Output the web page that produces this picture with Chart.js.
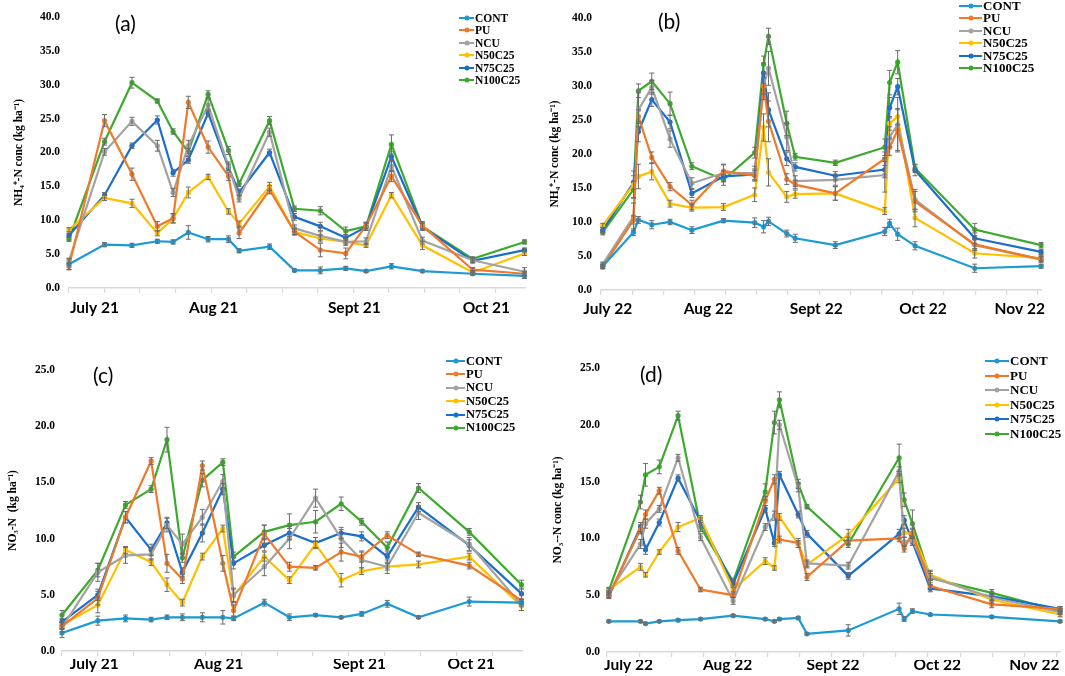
<!DOCTYPE html>
<html><head><meta charset="utf-8">
<script src="https://cdn.jsdelivr.net/npm/chart.js@4/dist/chart.umd.min.js"></script>
<style>
html,body{margin:0;padding:0;background:#fff}
body{width:1065px;height:676px;position:relative;overflow:hidden}
.pane{position:absolute}
.plab{position:absolute;font-family:Lato,"Open Sans",sans-serif;font-size:21px;line-height:1;color:#000}
.leg{position:absolute;font-family:"Liberation Serif","DejaVu Serif",serif;font-weight:bold;color:#000}
.leg .it{display:flex;align-items:center;white-space:nowrap}
.leg .sw{position:relative;height:2px;flex:none}
.leg .sw i{position:absolute;left:50%;top:50%;width:5px;height:5px;border-radius:50%;transform:translate(-50%,-50%)}
</style>
</head><body>
<div id="root"></div>
<script>
// ---- series names & colours ----
const NAMES  = ['CONT','PU','NCU','N50C25','N75C25','N100C25'];
const COLORS = ['#1b9ad6','#f07a2a','#a3a3a3','#ffc000','#1a6ecc','#3daa2e'];

// ---- sampling days (2021 season: panels a, c ; 2022 season: panels b, d) ----
const DAYS21 = [0,7,12.4,17.4,20.5,23.5,27.4,31.4,33.5,39.5,44.4,49.5,54.5,58.5,63.5,69.6,79.5,89.7];
const DAYS22 = [0.4,7.3,8.4,11.4,15.5,20.4,27.5,34.5,36.5,37.6,41.7,43.6,52.6,63.7,64.8,66.6,70.5,83.9,98.8];

// ---- x axis month labels ----
const MONTHS21 = ['July 21','Aug 21','Sept 21','Oct 21'];
const MONTHS22 = ['July 22','Aug 22','Sept 22','Oct 22','Nov 22'];
const MONTHPOS_A = [5.0,28.5,56.2,82.2];
const MONTHPOS_B = [1.5,24.1,48.3,72.3,94.0];
const MONTHPOS_C = [6.3,30.6,58.1,79.9];
const MONTHPOS_D = [4.7,26.3,49.3,72.0,93.2];

// ---- (a) NH4+-N 2021 : means ----
const A_CONT    = [3.5,6.4,6.3,6.9,6.8,8.2,7.2,7.2,5.5,6.1,2.6,2.6,2.9,2.5,3.2,2.5,2.1,1.8];
const A_PU      = [3.2,24.7,16.8,9.1,10.3,27.4,20.8,16.5,8.1,14.5,8.3,5.6,5.1,9.2,16.5,9.2,2.7,2.1];
const A_NCU     = [4.0,20.1,24.6,21.0,14.1,21.0,27.0,18.0,13.2,23.0,8.8,7.7,6.8,6.9,18.0,7.0,4.1,2.4];
const A_N50C25  = [8.6,13.3,12.5,8.1,10.2,14.1,16.4,11.3,9.5,15.0,8.3,7.3,6.8,6.3,13.7,6.3,2.3,5.1];
const A_N75C25  = [7.8,13.7,21.0,24.8,17.0,18.9,25.8,17.8,14.1,20.0,10.5,9.1,7.4,9.0,19.4,9.0,4.0,5.6];
const A_N100C25 = [7.2,21.6,30.3,27.6,23.1,20.1,28.6,20.3,15.4,24.7,11.7,11.4,8.4,9.1,21.2,9.1,4.3,6.8];
// (a) error bars
const A_CONT_E    = [0.8,0.3,0.3,0.3,0.3,1.0,0.4,0.5,0.3,0.4,0.2,0.5,0.3,0.2,0.4,0.2,0.2,0.4];
const A_PU_E      = [0.5,0.9,0.9,0.7,0.7,0.9,0.9,0.6,0.8,0.6,0.5,1.0,0.8,0.5,0.8,0.6,0.3,0.3];
const A_NCU_E     = [0.4,0.5,0.6,0.8,0.6,0.8,0.9,0.6,0.5,0.6,0.5,0.6,0.5,0.5,0.8,0.5,0.3,0.6];
const A_N50C25_E  = [0.3,0.4,0.6,0.4,0.6,0.8,0.4,0.4,0.4,0.6,0.4,0.5,0.3,0.3,0.4,0.6,0.3,0.3];
const A_N75C25_E  = [0.3,0.4,0.4,0.6,0.5,0.5,0.5,0.5,0.5,0.5,0.5,0.6,0.5,0.5,0.7,0.5,0.3,0.3];
const A_N100C25_E = [0.3,0.5,0.8,0.3,0.4,0.5,0.5,0.6,0.4,0.6,0.4,0.6,0.6,0.6,1.4,0.6,0.3,0.3];

// ---- (b) NH4+-N 2022 : means ----
const B_CONT    = [3.5,8.5,10.3,9.6,10.0,8.8,10.2,9.9,9.3,10.1,8.3,7.6,6.6,8.6,9.8,8.2,6.5,3.2,3.5];
const B_PU      = [3.4,10.3,25.5,19.5,15.2,12.5,17.5,16.8,30.0,24.8,16.3,15.5,14.2,19.3,21.0,23.5,13.0,6.7,4.5];
const B_NCU     = [3.8,10.8,26.5,29.8,22.2,15.7,17.2,17.2,30.0,32.6,22.5,16.0,16.2,16.9,22.5,24.3,13.3,6.6,4.5];
const B_N50C25  = [9.5,15.5,16.7,17.4,12.7,12.1,12.2,14.0,23.9,17.3,13.7,14.1,14.2,11.6,24.5,25.5,10.6,5.4,4.7];
const B_N75C25  = [8.8,15.8,23.3,28.0,24.7,14.2,16.7,17.0,31.9,26.5,19.3,18.1,16.8,17.7,26.8,29.9,17.6,7.6,5.6];
const B_N100C25 = [8.5,14.8,29.3,30.7,27.4,18.2,16.2,20.2,33.2,37.3,24.5,19.6,18.7,21.0,30.5,33.5,17.9,8.9,6.6];
// (b) error bars
const B_CONT_E    = [0.3,0.5,0.5,0.6,0.4,0.5,0.3,0.7,0.9,0.6,0.5,0.6,0.5,0.6,0.6,0.9,0.6,0.6,0.3];
const B_PU_E      = [0.3,0.6,1.0,0.8,0.6,0.7,1.0,0.8,1.2,3.0,0.8,0.6,1.0,1.0,1.2,3.0,1.5,0.8,0.4];
const B_NCU_E     = [0.3,2.0,2.5,1.0,1.2,0.8,1.2,1.0,2.0,2.5,2.0,0.8,0.8,2.5,1.5,4.0,1.5,0.8,0.4];
const B_N50C25_E  = [0.3,2.0,1.8,1.2,0.5,0.5,0.5,1.0,2.0,2.0,0.8,0.6,1.0,0.5,1.0,1.2,1.3,0.7,0.4];
const B_N75C25_E  = [0.4,1.0,1.5,1.0,1.0,0.6,0.8,0.8,1.5,2.5,1.0,0.6,0.6,1.2,1.5,1.2,0.8,0.8,0.4];
const B_N100C25_E = [0.4,1.2,1.0,1.2,1.7,0.5,0.8,0.8,1.2,1.2,1.8,0.5,0.4,1.2,1.8,1.7,0.6,0.9,0.4];

// ---- (c) NO3--N 2021 : means ----
const C_CONT    = [1.6,2.7,2.9,2.8,3.0,3.0,3.0,3.0,2.9,4.3,3.0,3.2,3.0,3.3,4.2,3.0,4.4,4.3];
const C_PU      = [2.2,4.7,11.9,16.9,7.8,6.4,16.5,7.8,3.6,10.4,7.5,7.4,8.8,8.4,10.3,8.6,7.6,4.5];
const C_NCU     = [2.1,7.0,8.5,8.6,11.2,9.5,11.9,15.1,5.0,7.5,10.0,13.6,10.0,8.1,7.5,12.3,9.5,4.1];
const C_N50C25  = [2.3,4.1,9.0,7.9,5.9,4.3,8.4,10.9,4.9,8.4,6.3,9.5,6.3,7.1,7.5,7.7,8.4,4.0];
const C_N75C25  = [2.6,5.0,11.9,9.0,11.4,7.0,10.5,14.4,7.8,9.4,10.5,9.6,10.5,10.2,8.4,12.8,9.4,5.1];
const C_N100C25 = [3.2,7.2,13.0,14.4,18.8,8.3,15.2,16.8,8.4,10.6,11.2,11.5,13.1,11.5,9.2,14.5,10.6,5.9];
// (c) error bars
const C_CONT_E    = [0.4,0.4,0.3,0.2,0.2,0.3,0.4,0.6,0.2,0.3,0.3,0.1,0.1,0.2,0.3,0.1,0.4,0.1];
const C_PU_E      = [0.3,0.6,0.5,0.3,0.8,0.4,0.4,0.7,0.5,0.8,0.4,0.2,0.8,0.5,0.3,0.2,0.3,0.5];
const C_NCU_E     = [0.4,0.8,0.7,0.5,0.6,0.9,0.7,0.6,0.6,0.8,0.9,0.8,0.8,0.7,0.6,0.6,0.6,0.5];
const C_N50C25_E  = [0.3,0.7,0.3,0.3,0.6,0.3,0.3,0.3,0.6,0.4,0.3,0.3,0.6,0.3,0.3,0.3,0.3,0.4];
const C_N75C25_E  = [0.3,0.5,0.5,0.5,0.5,0.4,0.8,0.5,0.5,0.5,0.6,0.5,0.5,0.4,0.5,0.4,0.5,0.5];
const C_N100C25_E = [0.4,0.6,0.3,0.3,1.1,0.4,0.6,0.3,0.4,0.6,1.0,1.0,0.6,0.3,0.5,0.4,0.3,0.4];

// ---- (d) NO3--N 2022 : means ----
const D_CONT    = [2.7,2.7,2.5,2.7,2.8,2.9,3.2,2.9,2.7,2.9,3.0,1.6,1.9,3.8,2.9,3.6,3.3,3.1,2.7];
const D_PU      = [5.0,10.8,12.1,14.2,8.9,5.5,5.0,13.3,15.2,9.9,9.6,6.6,9.8,10.0,9.1,10.5,5.8,4.2,3.8];
const D_NCU     = [5.2,9.5,11.3,12.6,17.1,10.1,4.5,11.0,12.0,20.0,14.5,7.8,7.6,15.9,9.7,9.8,6.6,4.8,3.5];
const D_N50C25  = [5.5,7.5,6.8,8.8,11.0,11.8,5.5,8.0,7.4,11.9,9.5,7.7,10.3,15.3,10.5,10.4,6.8,4.6,3.3];
const D_N75C25  = [4.9,11.0,9.0,11.4,15.3,11.5,6.0,12.6,9.6,15.6,12.1,10.4,6.7,10.4,11.6,9.7,5.6,4.9,3.8];
const D_N100C25 = [5.4,13.2,15.6,16.3,20.8,11.0,6.2,14.1,20.2,22.2,14.8,12.8,9.5,17.1,13.4,11.3,6.5,5.2,3.6];
// (d) error bars
const D_CONT_E    = [0.1,0.1,0.1,0.1,0.1,0.1,0.1,0.1,0.1,0.1,0.1,0.1,0.5,0.5,0.2,0.2,0.1,0.1,0.1];
const D_PU_E      = [0.2,0.4,0.4,0.3,0.3,0.2,0.2,0.4,0.4,0.3,0.4,0.3,0.3,0.3,0.3,0.4,0.3,0.3,0.2];
const D_NCU_E     = [0.2,0.4,0.4,0.3,0.3,0.3,0.3,0.3,0.4,0.4,0.4,0.3,0.3,0.4,0.4,0.4,0.3,0.3,0.2];
const D_N50C25_E  = [0.2,0.3,0.2,0.2,0.4,0.2,0.2,0.3,0.2,0.3,0.3,0.3,0.5,0.4,0.4,0.4,0.4,0.3,0.2];
const D_N75C25_E  = [0.2,0.4,0.4,0.3,0.3,0.3,0.3,0.3,0.3,0.3,0.3,0.3,0.3,0.4,0.4,0.3,0.3,0.3,0.2];
const D_N100C25_E = [0.2,0.6,1.0,0.6,0.4,0.4,0.3,0.7,1.0,0.7,0.4,0.2,0.3,1.2,0.6,1.2,0.6,0.3,0.2];

const NH4_TITLE = 'NH\u2084\u207A-N conc (kg ha\u207B\u00B9)';

const PANELS = [
  {tag:'(a)', days:DAYS21, series:[A_CONT,A_PU,A_NCU,A_N50C25,A_N75C25,A_N100C25],
   errs:[A_CONT_E,A_PU_E,A_NCU_E,A_N50C25_E,A_N75C25_E,A_N100C25_E], xmax:90, ymax:40,
   months:MONTHS21, mpos:MONTHPOS_A, title:NH4_TITLE,
   box:{l:0,t:0,w:540,h:332}, area:{l:69,t:17,r:526,b:288}, titlePad:12, tickPad:9, labPad:3,
   tagPos:{x:115,y:12}, leg:{x:459,y:11.5,lw:15,sp:12.5,fs:11.5}},
  {tag:'(b)', days:DAYS22, series:[B_CONT,B_PU,B_NCU,B_N50C25,B_N75C25,B_N100C25],
   errs:[B_CONT_E,B_PU_E,B_NCU_E,B_N50C25_E,B_N75C25_E,B_N100C25_E], xmax:99, ymax:40,
   months:MONTHS22, mpos:MONTHPOS_B, title:NH4_TITLE,
   box:{l:532,t:0,w:533,h:332}, area:{l:69,t:18,r:510,b:290}, titlePad:16, tickPad:9, labPad:2,
   tagPos:{x:658,y:10}, leg:{x:959,y:-0.2,lw:23,sp:12.4,fs:13}},
  {tag:'(c)', days:DAYS21, series:[C_CONT,C_PU,C_NCU,C_N50C25,C_N75C25,C_N100C25],
   errs:[C_CONT_E,C_PU_E,C_NCU_E,C_N50C25_E,C_N75C25_E,C_N100C25_E], xmax:90, ymax:25,
   months:MONTHS21, mpos:MONTHPOS_C, title:'NO\u2083-N  (kg ha\u207B\u00B9)',
   box:{l:0,t:336,w:540,h:340}, area:{l:62,t:34,r:523,b:315}, titlePad:6, tickPad:7, labPad:-4,
   tagPos:{x:93,y:364}, leg:{x:446,y:354.3,lw:19,sp:13.4,fs:12.5}},
  {tag:'(d)', days:DAYS22, series:[D_CONT,D_PU,D_NCU,D_N50C25,D_N75C25,D_N100C25],
   errs:[D_CONT_E,D_PU_E,D_NCU_E,D_N50C25_E,D_N75C25_E,D_N100C25_E], xmax:99, ymax:25,
   months:MONTHS22, mpos:MONTHPOS_D, title:'NO\u2083--N conc (kg ha\u207B\u00B9)',
   box:{l:532,t:336,w:533,h:340}, area:{l:75,t:32,r:529,b:316}, titlePad:19, tickPad:7, labPad:-4,
   tagPos:{x:640,y:363}, leg:{x:985,y:353.7,lw:24,sp:14.6,fs:13}}
];

// error bar plugin: draws mean ± error through the chart's own y scale
const errorBars = {
  id:'errorBars',
  afterDatasetsDraw(chart){
    const ctx = chart.ctx, ys = chart.scales.y;
    ctx.save();
    ctx.strokeStyle = '#6b6b6b'; ctx.lineWidth = 1;
    chart.data.datasets.forEach((ds,di)=>{
      const meta = chart.getDatasetMeta(di);
      (ds.errors||[]).forEach((e,i)=>{
        const pt = meta.data[i]; if(!pt || !e) return;
        const v = ds.data[i].y;
        const y1 = ys.getPixelForValue(v+e), y2 = ys.getPixelForValue(Math.max(0,v-e));
        const x = pt.x;
        ctx.beginPath();
        ctx.moveTo(x,y1); ctx.lineTo(x,y2);
        ctx.moveTo(x-2.5,y1); ctx.lineTo(x+2.5,y1);
        ctx.moveTo(x-2.5,y2); ctx.lineTo(x+2.5,y2);
        ctx.stroke();
      });
    });
    ctx.restore();
  }
};

const root = document.getElementById('root');
function weekTicks(max){ const t=[]; for(let v=0; v<=max+1e-9; v+=7) t.push({value:v}); return t; }

PANELS.forEach((p)=>{
  const div = document.createElement('div');
  div.className='pane';
  div.style.left=p.box.l+'px'; div.style.top=p.box.t+'px';
  div.style.width=p.box.w+'px'; div.style.height=p.box.h+'px';
  const cv = document.createElement('canvas');
  cv.width=p.box.w; cv.height=p.box.h;
  cv.style.width=p.box.w+'px'; cv.style.height=p.box.h+'px';
  div.appendChild(cv); root.appendChild(div);

  const xAxisH = 8;
  const xmH = p.box.h - p.area.b - xAxisH;

  new Chart(cv.getContext('2d'), {
    type:'line',
    data:{datasets: p.series.map((vals,i)=>({
      label:NAMES[i],
      data: vals.map((v,j)=>({x:p.days[j], y:v})),
      errors: p.errs[i],
      borderColor:COLORS[i], backgroundColor:COLORS[i],
      borderWidth:2.2, pointRadius:2.6, pointBorderWidth:0, pointHoverRadius:2.6,
      tension:0, xAxisID:'x', yAxisID:'y', clip:false
    }))},
    plugins:[errorBars],
    options:{
      responsive:false, animation:false, devicePixelRatio:1,
      layout:{padding:{left:0, top:p.area.t, right:p.box.w-p.area.r, bottom:0}},
      plugins:{legend:{display:false}, tooltip:{enabled:false}},
      scales:{
        x:{type:'linear', axis:'x', position:'bottom', min:0, max:p.xmax, weight:0,
           afterBuildTicks:s=>{ s.ticks = weekTicks(p.xmax); },
           afterFit:s=>{ s.height = xAxisH; },
           ticks:{display:false},
           grid:{drawOnChartArea:false, drawTicks:true, tickLength:5, color:'#d9d9d9', lineWidth:1.2},
           border:{display:true, color:'#d9d9d9', width:1.5}},
        xm:{type:'linear', axis:'x', position:'bottom', min:0, max:p.xmax, weight:1,
           afterBuildTicks:s=>{ s.ticks = p.mpos.map(v=>({value:v})); },
           afterFit:s=>{ s.height = xmH; },
           ticks:{autoSkip:false, maxRotation:0, minRotation:0, padding:p.labPad,
                  callback:(v,i)=>p.months[i],
                  font:{family:'Lato', weight:'bold', size:15.5}, color:'#000'},
           grid:{display:false, drawTicks:false}, border:{display:false}},
        y:{type:'linear', position:'left', min:0, max:p.ymax,
           afterFit:s=>{ s.width = p.area.l; },
           ticks:{stepSize:5, padding:p.tickPad, callback:v=>Number(v).toFixed(1),
                  font:{family:'Liberation Serif', weight:'bold', size:11.5}, color:'#000'},
           grid:{display:false, drawTicks:false}, border:{display:false},
           title:{display:true, text:p.title, color:'#000',
                  font:{family:'Liberation Serif', weight:'bold', size:11.5},
                  padding:{top:p.titlePad, bottom:0}}}
      }
    }
  });

  const tg = document.createElement('div');
  tg.className='plab'; tg.textContent=p.tag;
  tg.style.left=p.tagPos.x+'px'; tg.style.top=p.tagPos.y+'px';
  root.appendChild(tg);

  const lg = document.createElement('div');
  lg.className='leg';
  lg.style.left=p.leg.x+'px'; lg.style.top=p.leg.y+'px';
  lg.style.fontSize=p.leg.fs+'px';
  NAMES.forEach((n,i)=>{
    const it=document.createElement('div'); it.className='it';
    it.style.height=p.leg.sp+'px';
    const sw=document.createElement('span'); sw.className='sw';
    sw.style.width=p.leg.lw+'px'; sw.style.background=COLORS[i]; sw.style.marginRight='1px';
    const dot=document.createElement('i'); dot.style.background=COLORS[i]; sw.appendChild(dot);
    const tx=document.createElement('span'); tx.textContent=n;
    it.appendChild(sw); it.appendChild(tx); lg.appendChild(it);
  });
  root.appendChild(lg);
});
</script>
</body></html>
